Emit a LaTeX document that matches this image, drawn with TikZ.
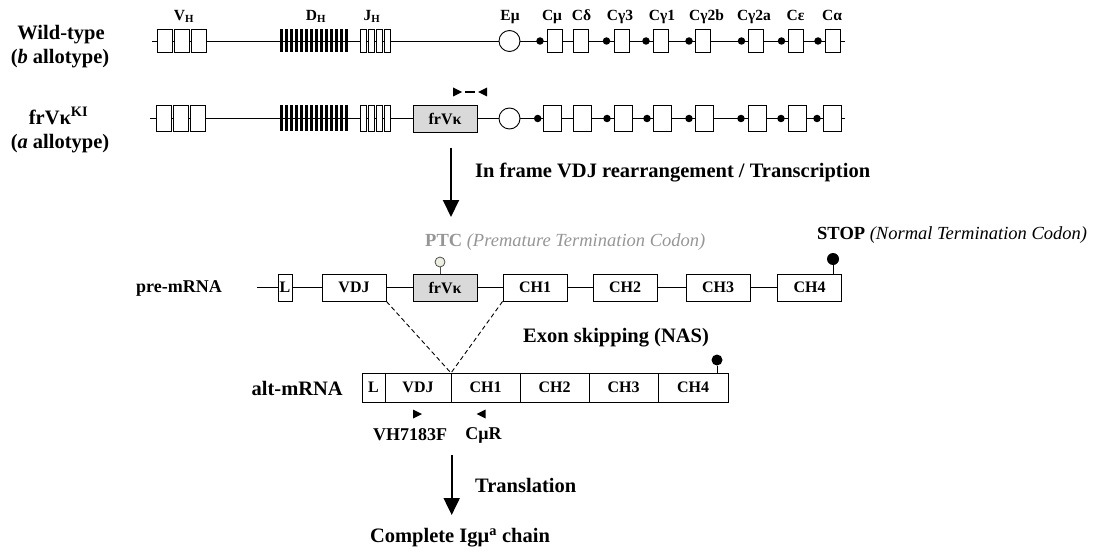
\documentclass[tikz,border=0pt]{standalone}
\usepackage{fontspec}
\setmainfont{Liberation Serif}
\usetikzlibrary{arrows.meta,calc}
\definecolor{ptcgray}{RGB}{150,150,150}
\definecolor{boxgray}{RGB}{217,217,217}
\definecolor{ptcfill}{RGB}{238,238,225}
\newcommand{\fsz}[1]{\fontsize{#1}{#1}\selectfont}
\tikzset{
  gline/.style={line width=0.9pt},
  gbox/.style={draw, fill=white, inner sep=0pt, line width=0.9pt},
  graybox/.style={gbox, fill=boxgray},
  dbar/.style={fill=black, draw=none, inner sep=0pt, minimum width=2.8pt},
  pdot/.style={circle, fill=black, inner sep=0pt, minimum size=7.5pt},
  enh/.style={circle, draw, fill=white, inner sep=0pt, minimum size=21pt, line width=0.9pt},
  glabel/.style={anchor=base, inner sep=0pt, font=\fsz{15.5}\bfseries},
  btext/.style={inner sep=0pt, font=\fsz{16}\bfseries},
  big/.style={inner sep=0pt, font=\fsz{20.5}\bfseries},
  bigarrow/.style={line width=2pt, -{Triangle[width=16pt,length=17pt]}},
}
\begin{document}
\begin{tikzpicture}[x=1pt,y=-1pt]
\useasboundingbox (0,0) rectangle (1102,556);

% ---------- left labels
\node[big, anchor=base] (wt1) at (61,39.3) {Wild-type};
\node[big, anchor=base] (wt2) at (60,63.3) {(\textit{b} allotype)};
\node[big, anchor=base] (ki1) at (58.5,124.5) {frVκ\textsuperscript{KI}};
\node[big, anchor=base] (ki2) at (60,148.5) {(\textit{a} allotype)};

% ---------- row 1 : wild type
\coordinate (r1start) at (152,41);
\coordinate (r1end) at (845,41);
\draw[gline] (r1start) -- (r1end);
\foreach \x [count=\i] in {164.5,181.5,198.5}
  \node[gbox, minimum width=15pt, minimum height=23pt] (r1v\i) at (\x,41) {};
\foreach \i in {0,...,13}
  \node[dbar, minimum height=23pt] (r1d\i) at ({281.3+5*\i},41) {};
\foreach \x [count=\i] in {363,371,379,387}
  \node[gbox, minimum width=6pt, minimum height=23pt] (r1j\i) at (\x,41) {};
\node[enh] (r1emu) at (509.5,41) {};
\foreach \x [count=\i] in {540,606.5,646,689,741.5,781.5,818}
  \node[pdot] (r1p\i) at (\x,41) {};
\foreach \x [count=\i] in {554.5,580.5,621.5,660.5,702.5,755.5,795.5,832.5}
  \node[gbox, minimum width=15pt, minimum height=23pt] (r1c\i) at (\x,41) {};

\node[glabel] (lvh) at (184,20.5) {V\textsubscript{H}};
\node[glabel] (ldh) at (316,20.5) {D\textsubscript{H}};
\node[glabel] (ljh) at (372,20.5) {J\textsubscript{H}};
\node[glabel] (lemu) at (510,20.5) {Eμ};
\node[glabel] (lcmu) at (552,20.5) {Cμ};
\node[glabel] (lcd) at (581.5,20.5) {Cδ};
\node[glabel] (lcg3) at (620,20.5) {Cγ3};
\node[glabel] (lcg1) at (662,20.5) {Cγ1};
\node[glabel] (lcg2b) at (706.5,20.5) {Cγ2b};
\node[glabel] (lcg2a) at (754,20.5) {Cγ2a};
\node[glabel] (lce) at (795.5,20.5) {Cε};
\node[glabel] (lca) at (832,20.5) {Cα};

% ---------- row 2 : frVk knock-in
\coordinate (r2start) at (150,118.5);
\coordinate (r2end) at (845,118.5);
\draw[gline] (r2start) -- (r2end);
\foreach \x [count=\i] in {164,181,198}
  \node[gbox, minimum width=15pt, minimum height=26pt] (r2v\i) at (\x,118.5) {};
\foreach \i in {0,...,13}
  \node[dbar, minimum height=26pt] (r2d\i) at ({281.3+5*\i},118.5) {};
\foreach \x [count=\i] in {363,371,379,387}
  \node[gbox, minimum width=6pt, minimum height=26pt] (r2j\i) at (\x,118.5) {};
\node[graybox, btext, minimum width=64pt, minimum height=27pt] (r2fr) at (445,118.5) {frVκ};
\node[enh] (r2emu) at (509.5,118.5) {};
\foreach \x [count=\i] in {537.7,607,647,689,741,781,817}
  \node[pdot] (r2p\i) at (\x,118.5) {};
\foreach \x [count=\i] in {552.5,582,623,662,704.5,757,797,832}
  \node[gbox, minimum width=18pt, minimum height=26pt] (r2c\i) at (\x,118.5) {};

% primers on the knock-in allele
\coordinate (pf) at (457.5,92);
\coordinate (pr) at (482.5,92);
\fill ($(pf)+(-4.5,-4.5)$) -- ($(pf)+(4.5,0)$) -- ($(pf)+(-4.5,4.5)$) -- cycle;
\fill ($(pr)+(4.5,-4.5)$) -- ($(pr)+(-4.5,0)$) -- ($(pr)+(4.5,4.5)$) -- cycle;
\draw[line width=1.3pt] (465,92) -- (475,92);

% ---------- arrow 1
\coordinate (a1s) at (451,148);
\coordinate (a1e) at (451,217);
\draw[bigarrow] (a1s) -- (a1e);
\node[big, anchor=west] (t1) at (475,173) {In frame VDJ rearrangement / Transcription};

% ---------- pre-mRNA
\node[inner sep=0pt, font=\fsz{18}\bfseries, anchor=east] (prelbl) at (222,288) {pre-mRNA};
\coordinate (pmstart) at (257,287.5);
\draw[gline] (pmstart) -- (777,287.5);
\node[gbox, btext, minimum width=14pt, minimum height=27pt] (pL) at (285,287.5) {L};
\node[gbox, btext, minimum width=64pt, minimum height=27pt] (pVDJ) at (354,287.5) {VDJ};
\node[graybox, btext, minimum width=64pt, minimum height=27pt] (pFR) at (445,287.5) {frVκ};
\node[gbox, btext, minimum width=64pt, minimum height=27pt] (pCH1) at (535,287.5) {CH1};
\node[gbox, btext, minimum width=64pt, minimum height=27pt] (pCH2) at (625,287.5) {CH2};
\node[gbox, btext, minimum width=64pt, minimum height=27pt] (pCH3) at (718,287.5) {CH3};
\node[gbox, btext, minimum width=64pt, minimum height=27pt] (pCH4) at (809.5,287.5) {CH4};

% PTC and STOP marks
\node[circle, draw=black!70, fill=ptcfill, inner sep=0pt, minimum size=10pt, line width=0.8pt] (ptcc) at (440,262) {};
\draw[line width=0.9pt, black!70] (ptcc.south) -- (ptcc.south |- pFR.north);
\node[anchor=base west, inner sep=0pt, text=ptcgray, font=\fsz{18.5}] (ptct) at (425,246.5) {\textbf{PTC} \textit{(Premature Termination Codon)}};
\node[circle, fill=black, inner sep=0pt, minimum size=12pt] (stopc) at (833,259) {};
\draw[line width=1pt] (stopc.south) -- (stopc.south |- pCH4.north);
\node[anchor=base west, inner sep=0pt, font=\fsz{18.5}] (stopt) at (817,239.5) {\textbf{STOP} \textit{(Normal Termination Codon)}};

% ---------- exon skipping
\coordinate (apex) at (451,373);
\draw[line width=0.9pt, dash pattern=on 4.5pt off 3pt] (pVDJ.south east) -- (apex);
\draw[line width=0.9pt, dash pattern=on 4.5pt off 3pt] (pCH1.south west) -- (apex);
\node[big, anchor=west] (t2) at (523,338) {Exon skipping (NAS)};

% ---------- alt-mRNA
\node[big, anchor=east] (altlbl) at (343,388) {alt-mRNA};
\node[gbox, btext, minimum width=23pt, minimum height=29pt] (aL) at (373.5,387.5) {L};
\node[gbox, btext, minimum width=66pt, minimum height=29pt] (aVDJ) at (418,387.5) {VDJ};
\node[gbox, btext, minimum width=69pt, minimum height=29pt] (aCH1) at (485.5,387.5) {CH1};
\node[gbox, btext, minimum width=69pt, minimum height=29pt] (aCH2) at (554.5,387.5) {CH2};
\node[gbox, btext, minimum width=69pt, minimum height=29pt] (aCH3) at (623.5,387.5) {CH3};
\node[gbox, btext, minimum width=70pt, minimum height=29pt] (aCH4) at (693,387.5) {CH4};
\node[circle, fill=black, inner sep=0pt, minimum size=11pt] (astop) at (717,360) {};
\draw[line width=1pt] (astop.south) -- (astop.south |- aCH4.north);

% primers on alt-mRNA
\coordinate (af) at (417.5,414);
\coordinate (ar) at (481,414);
\fill ($(af)+(-4.5,-4.5)$) -- ($(af)+(4.5,0)$) -- ($(af)+(-4.5,4.5)$) -- cycle;
\fill ($(ar)+(4.5,-4.5)$) -- ($(ar)+(-4.5,0)$) -- ($(ar)+(4.5,4.5)$) -- cycle;
\node[inner sep=0pt, font=\fsz{18}\bfseries] (pfl) at (410,435) {VH7183F};
\node[inner sep=0pt, font=\fsz{18}\bfseries] (prl) at (483.5,435) {CμR};

% ---------- translation
\coordinate (a2s) at (451.7,455);
\coordinate (a2e) at (451.7,515);
\draw[bigarrow] (a2s) -- (a2e);
\node[big, anchor=west] (t3) at (475,485) {Translation};
\node[big] (t4) at (460,538) {Complete Igμ\textsuperscript{a} chain};
\end{tikzpicture}
\end{document}
